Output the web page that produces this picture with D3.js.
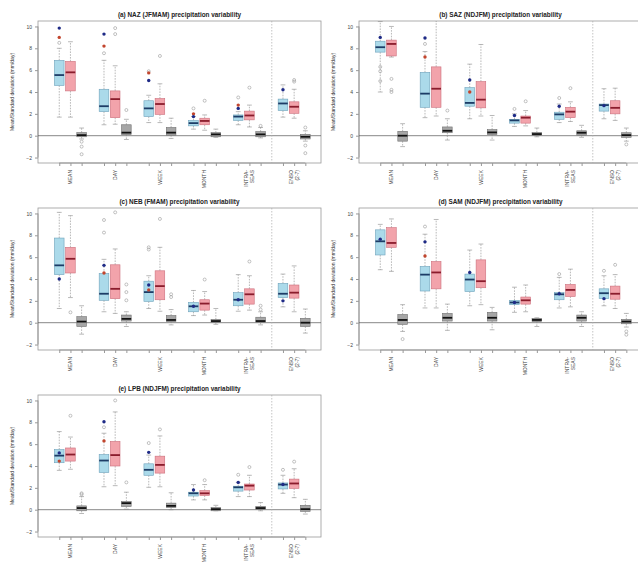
<!DOCTYPE html>
<html>
<head>
<meta charset="utf-8">
<script src="https://cdn.jsdelivr.net/npm/d3@7"></script>
<style>
  body { margin: 0; background: #fff; }
  svg { font-family: "Liberation Sans", Arial, sans-serif; }
</style>
</head>
<body>
<div id="chart"></div>
<script>
// categories on the x axis ("|" = line break)
const categories = ["MEAN", "DAY", "WEEK", "MONTH", "INTRA-|SEAS", "ENSO|(2-7)"];
const yTicks = [-2, 0, 2, 4, 6, 8, 10];
const titles = [
  "(a) NAZ (JFMAM) precipitation variability",
  "(b) SAZ (NDJFM) precipitation variability",
  "(c) NEB (FMAM) precipitation variability",
  "(d) SAM (NDJFM) precipitation variability",
  "(e) LPB (NDJFM) precipitation variability"
];

// box stats per category: [low whisker, q1, median, q3, high whisker]
const nazBlue = [[1.7,4.6,5.55,6.9,8.0],[1.0,2.2,2.7,4.25,6.9],[1.2,1.75,2.5,3.2,3.7],[0.6,0.9,1.15,1.4,1.75],[1.0,1.4,1.75,1.9,2.2],[1.7,2.3,2.95,3.35,4.65]];
const nazRed  = [[1.7,4.1,5.8,6.8,8.6],[1.05,1.65,3.35,4.1,6.4],[1.2,1.95,2.9,3.4,4.75],[0.5,1.0,1.35,1.6,1.9],[0.8,1.45,1.85,2.25,2.8],[1.6,2.05,2.65,3.1,4.25]];
const nazGray = [[-0.3,-0.1,0.05,0.28,0.7],[-0.35,0.1,0.28,1.0,1.5],[-0.25,0.05,0.28,0.75,1.6],[-0.15,-0.1,0.12,0.28,0.6],[-0.2,-0.1,0.12,0.37,0.75],[-0.5,-0.3,-0.1,0.12,0.45]];
// outliers: [category, series (0 blue, 1 red, 2 gray), value]
const nazOut = [[0,0,8.5],[1,0,7.55],[2,0,5.9],[3,0,2.5],[4,0,3.5],[1,1,9.85],[1,1,9.3],[2,1,7.3],[3,1,3.2],[4,1,4.4],[5,1,5.1],[5,1,4.95],[0,2,-0.55],[0,2,-1.0],[0,2,-1.7],[1,2,2.35],[4,2,0.9],[5,2,0.75],[5,2,-0.9],[5,2,-1.6]];
// observations drawn on the blue column
const nazObsA = [9.85, 9.3, 5.05, 1.75, 2.5, 4.2];
const nazObsB = [9.0, 8.2, 5.75, 2.0, 2.8, null];

const sazBlue = [[4.0,7.65,8.1,8.65,10.45],[1.65,2.6,3.85,5.8,7.7],[1.55,2.7,3.0,4.4,6.55],[0.85,1.15,1.4,1.5,2.0],[1.2,1.5,1.95,2.15,2.9],[1.55,2.25,2.8,2.9,4.3]];
const sazRed  = [[7.2,7.3,8.4,8.75,10.0],[1.8,2.6,4.3,6.3,10.6],[1.8,2.55,3.3,4.95,8.35],[0.9,1.15,1.65,1.8,2.3],[1.3,1.65,2.2,2.6,3.1],[1.4,2.0,2.55,3.2,4.35]];
const sazGray = [[-1.0,-0.5,0.0,0.4,1.1],[-0.4,0.27,0.45,0.8,1.55],[-0.4,0.1,0.3,0.55,1.85],[-0.1,0.0,0.15,0.3,0.7],[-0.15,0.05,0.27,0.45,0.95],[-0.5,-0.15,0.05,0.27,0.7]];
const sazOut = [[0,0,6.3],[0,0,5.9],[0,0,5.0],[1,0,8.4],[3,0,2.45],[4,0,3.45],[0,1,5.2],[0,1,4.2],[0,1,4.0],[3,1,3.15],[4,1,4.35],[1,2,2.3],[5,2,-0.8]];
const sazObsA = [9.0, 8.95, 5.1, 1.85, 2.7, 2.75];
const sazObsB = [null, 7.2, 4.0, null, null, null];

const nebBlue = [[1.3,4.4,5.25,7.75,10.1],[1.0,2.05,2.65,4.5,5.8],[1.3,1.95,2.8,3.8,4.3],[0.65,1.0,1.5,1.85,2.95],[1.05,1.55,2.1,2.75,4.4],[1.45,2.3,2.65,3.6,4.45]];
const nebRed  = [[2.3,4.55,5.85,6.9,9.8],[0.85,2.2,3.1,5.3,6.75],[1.05,2.1,3.35,4.75,6.9],[0.7,1.15,1.75,2.1,2.85],[1.15,1.7,2.6,3.1,4.3],[1.0,2.25,2.75,3.45,5.2]];
const nebGray = [[-1.05,-0.35,0.1,0.55,1.55],[-0.35,0.15,0.35,0.7,1.0],[-0.2,0.1,0.25,0.65,1.2],[-0.15,0.0,0.15,0.3,1.3],[-0.2,0.0,0.15,0.5,1.0],[-0.95,-0.35,0.0,0.4,1.25]];
const nebOut = [[1,0,9.4],[1,0,8.25],[2,0,6.9],[2,0,6.7],[0,1,0.95],[1,1,10.1],[2,1,9.5],[3,1,3.95],[4,1,5.6],[1,2,3.5],[1,2,2.8],[1,2,2.05],[2,2,2.6],[2,2,2.35],[4,2,1.55],[4,2,1.2]];
const nebObsA = [4.0, 5.25, 3.45, 1.5, 2.1, 2.0];
const nebObsB = [null, 4.55, 3.0, null, null, null];

const samBlue = [[4.85,6.2,7.45,8.5,9.0],[1.35,2.9,4.4,5.15,8.1],[1.55,2.85,3.95,4.45,6.65],[0.95,1.65,1.85,2.05,3.25],[1.35,2.1,2.6,2.75,4.15],[1.55,2.2,2.7,3.1,4.3]];
const samRed  = [[4.7,6.9,7.3,8.7,9.5],[1.35,3.1,4.6,5.6,9.45],[1.65,3.2,3.8,5.75,7.2],[1.0,1.7,2.05,2.35,3.45],[1.45,2.4,3.0,3.5,4.9],[1.3,2.15,2.65,3.35,4.4]];
const samGray = [[-0.8,-0.15,0.25,0.75,1.65],[-0.7,0.15,0.45,0.85,1.7],[-0.65,0.15,0.45,0.95,1.4],[-0.35,0.1,0.25,0.4,0.45],[-0.35,0.15,0.45,0.7,1.0],[-0.4,-0.1,0.1,0.3,0.85]];
const samOut = [[1,0,8.8],[4,0,4.45],[5,0,4.75],[5,1,5.3],[0,2,-1.5],[5,2,-0.8],[5,2,-1.1]];
const samObsA = [7.65, 7.4, 4.6, 1.85, 2.65, 2.2];
const samObsB = [null, 6.1, null, null, null, null];

const lpbBlue = [[3.6,4.3,4.95,5.5,7.15],[2.1,3.4,4.5,5.05,7.0],[2.05,3.15,3.65,4.2,5.0],[0.9,1.25,1.5,1.6,2.3],[1.2,1.7,2.05,2.15,2.5],[1.5,1.9,2.3,2.45,3.15]];
const lpbRed  = [[3.7,4.45,5.05,5.65,6.65],[2.2,4.0,5.0,6.25,8.95],[2.1,3.35,4.1,4.9,6.75],[0.9,1.3,1.5,1.75,2.3],[1.2,1.8,2.2,2.35,3.15],[1.1,1.95,2.4,2.8,3.75]];
const lpbGray = [[-0.35,-0.1,0.15,0.35,1.2],[0.05,0.3,0.6,0.75,1.6],[0.0,0.2,0.35,0.6,1.55],[-0.1,-0.1,0.05,0.2,0.4],[-0.1,0.0,0.15,0.3,0.65],[-0.4,-0.15,0.05,0.4,0.95]];
const lpbOut = [[1,0,7.55],[2,0,6.1],[4,0,3.2],[5,0,3.65],[0,1,8.6],[1,1,10.0],[2,1,7.35],[3,1,2.7],[4,1,3.9],[5,1,4.4],[0,2,1.5],[0,2,1.4],[1,2,2.5]];
const lpbObsA = [5.2, 8.05, 5.25, 1.8, 2.5, 2.3];
const lpbObsB = [4.45, 6.3, null, null, null, null];

const panels = [
  {title: titles[0], blue: nazBlue, red: nazRed, gray: nazGray, out: nazOut, obsA: nazObsA, obsB: nazObsB, ox: 0,   oy: 0},
  {title: titles[1], blue: sazBlue, red: sazRed, gray: sazGray, out: sazOut, obsA: sazObsA, obsB: sazObsB, ox: 321, oy: 0},
  {title: titles[2], blue: nebBlue, red: nebRed, gray: nebGray, out: nebOut, obsA: nebObsA, obsB: nebObsB, ox: 0,   oy: 187},
  {title: titles[3], blue: samBlue, red: samRed, gray: samGray, out: samOut, obsA: samObsA, obsB: samObsB, ox: 321, oy: 187},
  {title: titles[4], blue: lpbBlue, red: lpbRed, gray: lpbGray, out: lpbOut, obsA: lpbObsA, obsB: lpbObsB, ox: 0,   oy: 374}
];

const fills   = ["#abdaea", "#f2a3ab", "#a6a6a6"];
const borders = ["#6fa2bb", "#cc6f7c", "#707070"];
const medians = ["#1d3c66", "#8a1c2c", "#111"];

let W = 638, H = 570;
let pL = 38, pR = 321, pT = 21, pB = 163;

let svg = d3.select("#chart").append("svg")
  .attr("width", W).attr("height", H);

// slot position of a box: groups of 3 with one empty slot between them
const pos = (c, s) => c * 4 + s + 1;

let x = d3.scaleLinear().domain([-0.9, 24.4]).range([pL, pR]);
let y = d3.scaleLinear().domain([-2.5, 10.5]).range([pB, pT]);
let bw = (x(1) - x(0)) * 0.86;

panels.forEach(p => {
  let g = svg.append("g").attr("transform", `translate(${p.ox},${p.oy})`);
  let clipId = "clip" + p.ox + "_" + p.oy;
  g.append("clipPath").attr("id", clipId)
    .append("rect").attr("x", pL).attr("y", pT)
    .attr("width", pR - pL).attr("height", pB - pT);

  // title
  g.append("text")
    .attr("x", (pL + pR) / 2).attr("y", 17)
    .attr("text-anchor", "middle")
    .attr("font-size", 6.4).attr("font-weight", "bold")
    .attr("fill", "#222")
    .text(p.title);

  // y label
  g.append("text")
    .attr("transform", `translate(14,${(pT + pB) / 2}) rotate(-90)`)
    .attr("text-anchor", "middle")
    .attr("font-size", 5).attr("fill", "#333")
    .text("Mean/Standard deviation (mm/day)");

  // y axis
  let yAxis = d3.axisLeft(y).tickValues(yTicks).tickSize(3).tickPadding(3);
  let ya = g.append("g").attr("transform", `translate(${pL},0)`).call(yAxis);
  ya.select(".domain").attr("stroke", "#999")
    .attr("d", `M-0,${y(-2)}V${y(10)}`);
  ya.selectAll(".tick line").attr("stroke", "#999");
  ya.selectAll(".tick text").attr("font-size", 5).attr("fill", "#444")
    .attr("font-family", "Liberation Sans, Arial, sans-serif");

  // x axis ticks at every box, labels at group centres
  let allPos = d3.range(categories.length).flatMap(c => [0, 1, 2].map(s => pos(c, s)));
  let xa = g.append("g").attr("transform", `translate(0,${pB})`)
    .call(d3.axisBottom(x).tickValues(allPos).tickSize(3).tickFormat(""));
  xa.select(".domain").attr("stroke", "#999").attr("d", `M${x(1)},0H${x(23)}`);
  xa.selectAll(".tick line").attr("stroke", "#999");

  categories.forEach((c, i) => {
    let lines = c.split("|");
    lines.forEach((ln, k) => {
      let dx = (k - (lines.length - 1) / 2) * 5.5;
      g.append("text")
        .attr("transform", `translate(${x(pos(i, 1)) + dx + 1.8},${pB + 7}) rotate(-90)`)
        .attr("text-anchor", "end")
        .attr("font-size", 5).attr("fill", "#444")
        .text(ln);
    });
  });

  // frame
  g.append("rect")
    .attr("x", pL).attr("y", pT)
    .attr("width", pR - pL).attr("height", pB - pT)
    .attr("fill", "none").attr("stroke", "#999").attr("stroke-width", 0.8);

  let plot = g.append("g").attr("clip-path", `url(#${clipId})`);

  // zero line and ENSO separator
  plot.append("line")
    .attr("x1", pL).attr("x2", pR).attr("y1", y(0)).attr("y2", y(0))
    .attr("stroke", "#555").attr("stroke-width", 0.7);
  plot.append("line")
    .attr("x1", x(20)).attr("x2", x(20)).attr("y1", pT).attr("y2", pB)
    .attr("stroke", "#aaa").attr("stroke-width", 0.7).attr("stroke-dasharray", "1.5,1.5");

  [p.blue, p.red, p.gray].forEach((series, s) => {
    series.forEach((d, c) => {
      let cx = x(pos(c, s));
      let [lo, q1, md, q3, hi] = d;
      // whiskers
      plot.append("line").attr("x1", cx).attr("x2", cx).attr("y1", y(q3)).attr("y2", y(hi))
        .attr("stroke", "#8a8a8a").attr("stroke-width", 0.6).attr("stroke-dasharray", "1.6,1.2");
      plot.append("line").attr("x1", cx).attr("x2", cx).attr("y1", y(q1)).attr("y2", y(lo))
        .attr("stroke", "#8a8a8a").attr("stroke-width", 0.6).attr("stroke-dasharray", "1.6,1.2");
      [lo, hi].forEach(v => {
        plot.append("line").attr("x1", cx - bw / 4).attr("x2", cx + bw / 4)
          .attr("y1", y(v)).attr("y2", y(v))
          .attr("stroke", "#8a8a8a").attr("stroke-width", 0.6);
      });
      // box
      plot.append("rect")
        .attr("x", cx - bw / 2).attr("width", bw)
        .attr("y", y(q3)).attr("height", Math.max(0.5, y(q1) - y(q3)))
        .attr("fill", fills[s]).attr("stroke", borders[s]).attr("stroke-width", 0.6);
      // median
      plot.append("line").attr("x1", cx - bw / 2).attr("x2", cx + bw / 2)
        .attr("y1", y(md)).attr("y2", y(md))
        .attr("stroke", medians[s]).attr("stroke-width", 1.8);
    });
  });

  // outliers
  plot.selectAll("circle.out").data(p.out).enter().append("circle")
    .attr("class", "out")
    .attr("cx", d => x(pos(d[0], d[1])))
    .attr("cy", d => y(d[2]))
    .attr("r", 1.5)
    .attr("fill", "none").attr("stroke", "#999").attr("stroke-width", 0.6);

  // observations on the blue column
  let obs = [];
  p.obsB.forEach((v, c) => { if (v != null) obs.push({c: c, v: v, col: "#c2452d"}); });
  p.obsA.forEach((v, c) => { if (v != null) obs.push({c: c, v: v, col: "#1e2a86"}); });
  plot.selectAll("circle.obs").data(obs).enter().append("circle")
    .attr("class", "obs")
    .attr("cx", d => x(pos(d.c, 0)))
    .attr("cy", d => y(d.v))
    .attr("r", 1.7)
    .attr("fill", d => d.col);
});
</script>
</body>
</html>
